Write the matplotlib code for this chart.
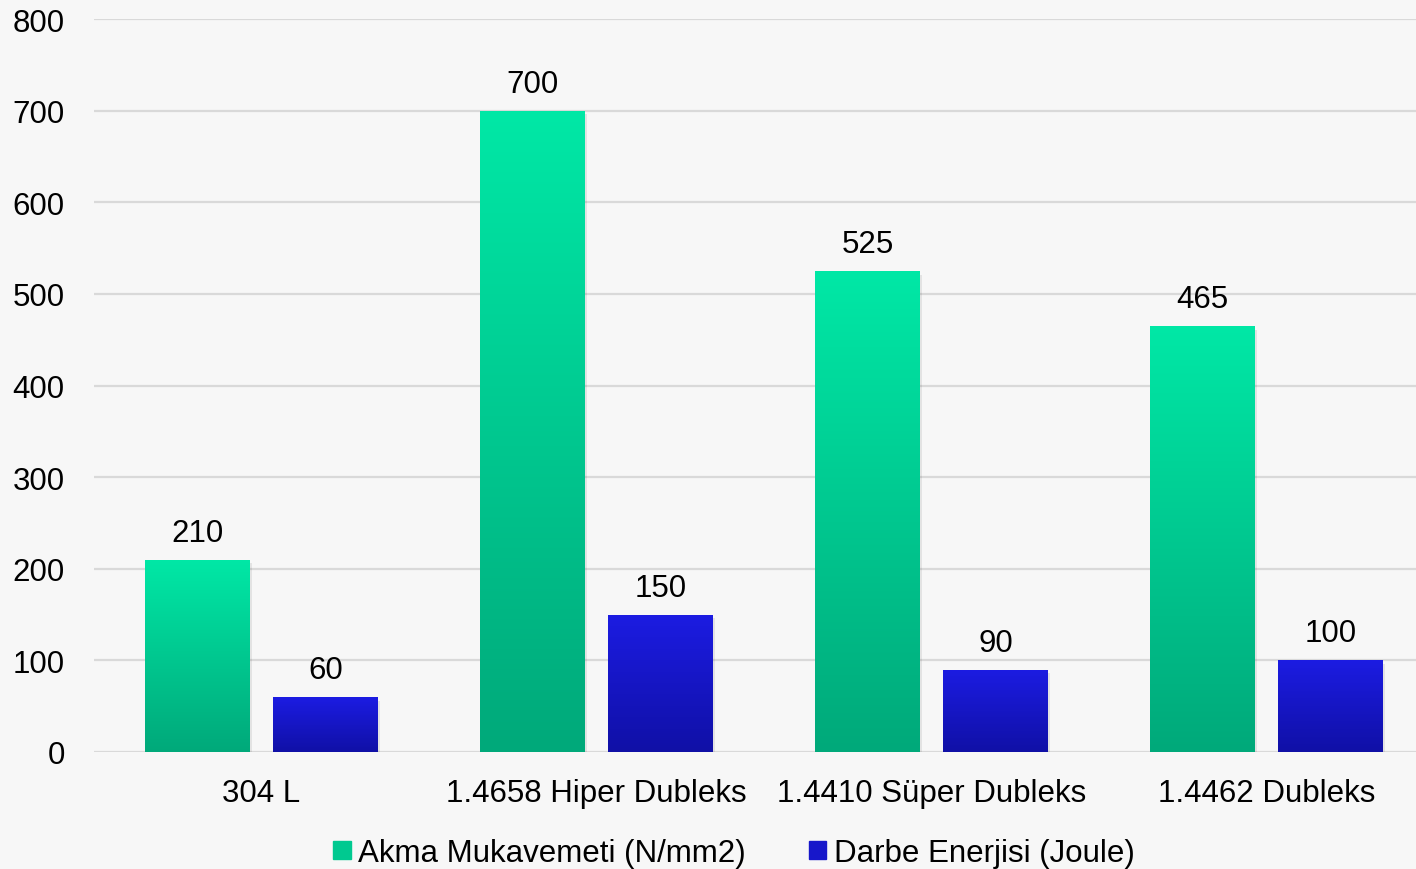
import numpy as np
import matplotlib.pyplot as plt
from matplotlib.colors import LinearSegmentedColormap
from matplotlib.patches import Rectangle

plt.rcParams['font.family'] = ['Liberation Sans', 'DejaVu Sans']

categories = ['304 L', '1.4658 Hiper Dubleks', '1.4410 Süper Dubleks', '1.4462 Dubleks']
akma = [210, 700, 525, 465]
darbe = [60, 150, 90, 100]
series_names = ['Akma Mukavemeti (N/mm2)', 'Darbe Enerjisi (Joule)']

bg = '#F7F7F7'
green_cmap = LinearSegmentedColormap.from_list('g', ['#00A97A', '#00E8A6'])
blue_cmap = LinearSegmentedColormap.from_list('b', ['#1010A6', '#1C1CE2'])

fig = plt.figure(figsize=(14.16, 8.7), dpi=100, facecolor=bg)
ax = fig.add_axes([94 / 1416, 1 - 753 / 870, 1340 / 1416, 733 / 870], facecolor=bg)

x = np.arange(len(categories))
w = 0.313
off = 0.191
fs = 22.5

grad = np.linspace(0, 1, 256).reshape(-1, 1)


def gradient_bars(xs, vals, cmap):
    bars = ax.bar(xs, vals, width=w, color='none', zorder=3)
    for b, v in zip(bars, vals):
        x0 = b.get_x()
        # soft drop shadow
        ax.add_patch(Rectangle((x0 + 0.006, -4), w, v, color='#000000', alpha=0.08,
                               lw=0, zorder=2))
        im = ax.imshow(grad, cmap=cmap, origin='lower', aspect='auto',
                       extent=[x0, x0 + w, 0, v], zorder=3)
        im.set_clip_path(b)
        ax.text(b.get_x() + w / 2, v + 13, str(v), ha='center', va='bottom',
                fontsize=fs, color='#000000', zorder=4)
    return bars


gradient_bars(x - off, akma, green_cmap)
gradient_bars(x + off, darbe, blue_cmap)

ax.set_xlim(-0.5, 3.5)
ax.set_ylim(0, 800)
ax.set_yticks(range(0, 801, 100))
ax.grid(axis='y', color='#D9D9D9', lw=1.6, zorder=0)
ax.set_axisbelow(True)
for s in ax.spines.values():
    s.set_visible(False)
ax.tick_params(axis='both', length=0, labelsize=fs)
ax.tick_params(axis='y', pad=21)
ax.tick_params(axis='x', pad=19)
ax.set_xticks(x)
ax.set_xticklabels(categories)

handles = [Rectangle((0, 0), 1, 1, color=green_cmap(0.5)),
           Rectangle((0, 0), 1, 1, color=blue_cmap(0.6))]
fig.legend(handles, series_names, loc='center', bbox_to_anchor=(734 / 1416, 1 - 854 / 870),
           ncol=2, frameon=False, fontsize=fs, handlelength=0.55, handleheight=0.55,
           handletextpad=0.25, columnspacing=2.0)

plt.savefig('out.png', dpi=100, facecolor=bg)
